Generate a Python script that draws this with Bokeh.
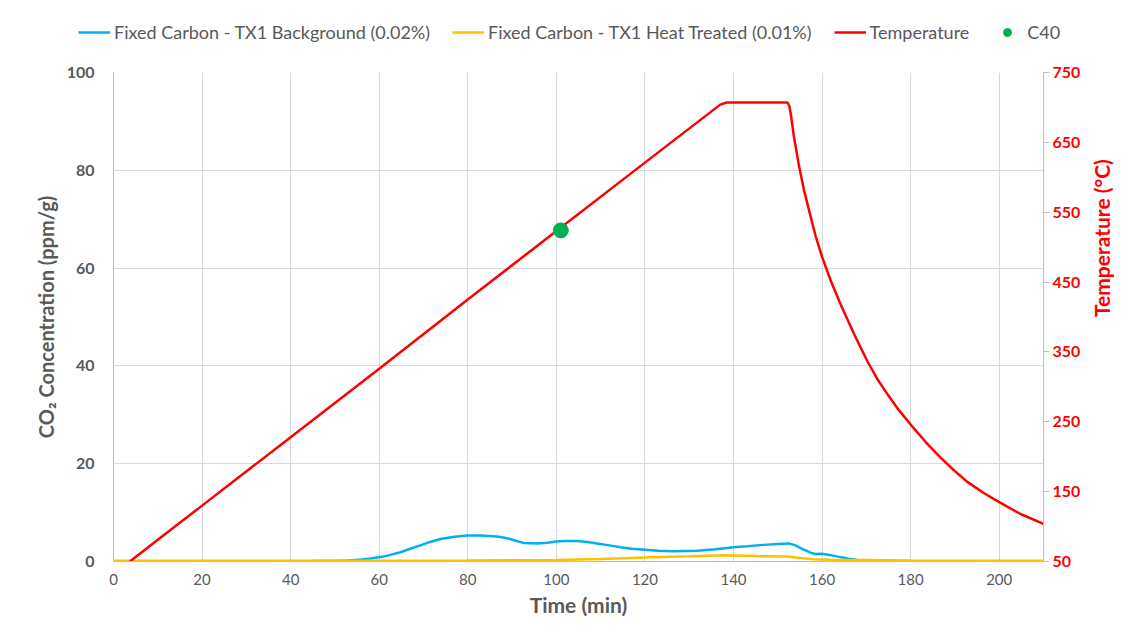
import math
from bokeh.plotting import figure
from bokeh.models import Range1d, LinearAxis, FixedTicker, Legend, LegendItem
from bokeh.embed import file_html
from bokeh.resources import INLINE

# ---- data ----
bg_time = [0, 10, 20, 30, 40, 45, 50, 53, 56, 58, 60.3, 62.5, 64.8, 67, 69.3, 71.5, 73.8, 77, 80, 83, 86.6,
           88, 89.6, 91, 92.6, 95.7, 98, 100, 102, 104.7, 107, 109.2, 112, 114.5, 117, 120, 123, 126.5,
           131.8, 136, 140, 143, 146.8, 150, 152.5, 154, 155.5, 157.4, 158.5, 160, 162, 164.1, 166,
           168, 170, 172, 175, 178, 182, 190, 200, 210]
bg_co2 = [0.05, 0.05, 0.05, 0.05, 0.05, 0.08, 0.12, 0.22, 0.4, 0.6, 0.9, 1.35, 1.9, 2.6, 3.3, 4.0, 4.6, 5.05, 5.3, 5.3, 5.1,
          4.9, 4.6, 4.2, 3.8, 3.7, 3.85, 4.1, 4.2, 4.2, 4.0, 3.7, 3.3, 2.9, 2.6, 2.4, 2.2, 2.1,
          2.2, 2.5, 2.9, 3.1, 3.4, 3.6, 3.7, 3.3, 2.6, 1.8, 1.55, 1.6, 1.3, 0.9, 0.55,
          0.3, 0.12, 0.0, -0.1, -0.1, -0.05, 0.0, 0.0, 0.0]

ht_time = [0, 20, 40, 60, 80, 100, 110, 120, 130, 138, 145, 152, 155, 158, 162, 170, 180, 195, 210]
ht_co2 = [0.15, 0.15, 0.15, 0.15, 0.2, 0.3, 0.5, 0.8, 1.05, 1.3, 1.1, 1.0, 0.7, 0.45, 0.35, 0.3, 0.2, 0.15, 0.15]

temp_time = [3.7, 10, 20, 40, 60, 80, 100, 120, 137.0, 138.5, 152.2, 152.6, 153.0, 153.6, 154.8, 155.9,
             157.4, 158.5, 160, 161.9, 164.2, 167.2, 170.2, 172.4, 174.7, 177.3, 180, 183.4, 186.7,
             189.7, 192.8, 196.5, 200, 204.8, 210]
temp_c = [50, 81, 130, 228, 326, 425, 523, 621, 704, 707, 707, 702, 688, 660, 616, 582,
          544, 517, 486, 453, 418, 376, 337, 312, 290, 267, 246, 221, 199,
          181, 164, 148, 135, 118, 104]

c40_time = [101]
c40_temp = [524]

series_labels = ["Fixed Carbon - TX1 Background (0.02%)", "Fixed Carbon - TX1 Heat Treated (0.01%)",
                 "Temperature", "C40"]

x_ticks = [0, 20, 40, 60, 80, 100, 120, 140, 160, 180, 200]
y_ticks = [0, 20, 40, 60, 80, 100]
t_ticks = [50, 150, 250, 350, 450, 550, 650, 750]

GRAY = "#595959"
FONT = "Lato"
BLUE = "#00b0f0"
YEL = "#ffc000"
RED = "#ff0000"
GREEN = "#00b050"

# ---------- legend strip ----------
pl = figure(width=1144, height=60, output_backend="svg", toolbar_location=None,
            x_range=Range1d(0, 1), y_range=Range1d(0, 1),
            min_border_left=0, min_border_right=0, min_border_top=0, min_border_bottom=0)
pl.axis.visible = False
pl.grid.visible = False
pl.outline_line_color = None
pl.border_fill_color = "white"
# off-range placeholders so the legend can draw its swatches
l_bg = pl.line([5, 6], [5, 5], line_color=BLUE, line_width=2.5)
l_ht = pl.line([5, 6], [5, 5], line_color=YEL, line_width=2.5)
l_t = pl.line([5, 6], [5, 5], line_color=RED, line_width=2.5)
l_c = pl.scatter([5], [5], size=12, color=GREEN)
legend = Legend(items=[LegendItem(label=lab, renderers=[r]) for lab, r in
                       zip(series_labels, [l_bg, l_ht, l_t, l_c])],
                orientation="horizontal", location=(78, 17))
legend.label_text_font = FONT
legend.label_text_font_size = "18px"
legend.label_text_color = GRAY
legend.glyph_width = 32
legend.label_standoff = 4
legend.spacing = 22
legend.padding = 0
legend.margin = 0
legend.border_line_color = None
legend.background_fill_alpha = 0
pl.add_layout(legend, "center")

# ---------- main chart ----------
p = figure(width=1144, height=582, output_backend="svg", toolbar_location=None,
           x_range=Range1d(0, 210), y_range=Range1d(0, 100),
           min_border_left=113, min_border_right=101, min_border_top=12, min_border_bottom=81)
p.extra_y_ranges = {"temp": Range1d(50, 750)}
p.outline_line_color = None
p.background_fill_color = "white"
p.border_fill_color = "white"

p.xgrid.ticker = FixedTicker(ticks=x_ticks + [210])
p.ygrid.ticker = FixedTicker(ticks=y_ticks)
for g in (p.xgrid, p.ygrid):
    g.grid_line_color = "#d9d9d9"
    g.grid_line_width = 1

xa = p.xaxis[0]
xa.ticker = FixedTicker(ticks=x_ticks)
xa.axis_label = "Time (min)"
xa.axis_line_color = "#bfbfbf"
xa.major_tick_line_color = None
xa.minor_tick_line_color = None
xa.major_label_text_font = FONT
xa.major_label_text_font_size = "15px"
xa.major_label_text_color = GRAY
xa.major_label_standoff = 6
xa.axis_label_text_font = FONT
xa.axis_label_text_font_size = "21px"
xa.axis_label_text_font_style = "bold"
xa.axis_label_text_color = GRAY
xa.axis_label_standoff = 4

ya = p.yaxis[0]
ya.ticker = FixedTicker(ticks=y_ticks)
ya.axis_label = "CO\u2082 Concentration (ppm/g)"
ya.axis_line_color = "#bfbfbf"
ya.major_tick_line_color = None
ya.minor_tick_line_color = None
ya.major_label_text_font = FONT
ya.major_label_text_font_size = "16px"
ya.major_label_text_font_style = "bold"
ya.major_label_text_color = GRAY
ya.major_label_standoff = 13
ya.axis_label_text_font = FONT
ya.axis_label_text_font_size = "20px"
ya.axis_label_text_font_style = "bold"
ya.axis_label_text_color = GRAY
ya.axis_label_standoff = 6

ra = LinearAxis(y_range_name="temp", ticker=FixedTicker(ticks=t_ticks))
ra.axis_label = "Temperature (\u00b0C)"
ra.axis_label_orientation = math.pi / 2
ra.axis_line_color = "#bfbfbf"
ra.major_tick_line_color = "#bfbfbf"
ra.major_tick_out = 6
ra.major_tick_in = 0
ra.minor_tick_line_color = None
ra.major_label_text_font = FONT
ra.major_label_text_font_size = "16px"
ra.major_label_text_font_style = "bold"
ra.major_label_text_color = RED
ra.major_label_standoff = 3
ra.axis_label_text_font = FONT
ra.axis_label_text_font_size = "21px"
ra.axis_label_text_font_style = "bold"
ra.axis_label_text_color = RED
ra.axis_label_standoff = 18
p.add_layout(ra, "right")

p.line(bg_time, bg_co2, line_color=BLUE, line_width=2.5)
p.line(ht_time, ht_co2, line_color=YEL, line_width=2.5)
p.line(temp_time, temp_c, line_color=RED, line_width=2.5, y_range_name="temp")
p.scatter(c40_time, c40_temp, size=15, color=GREEN, y_range_name="temp")

open("out.html", "w").write(file_html([pl, p], INLINE))
